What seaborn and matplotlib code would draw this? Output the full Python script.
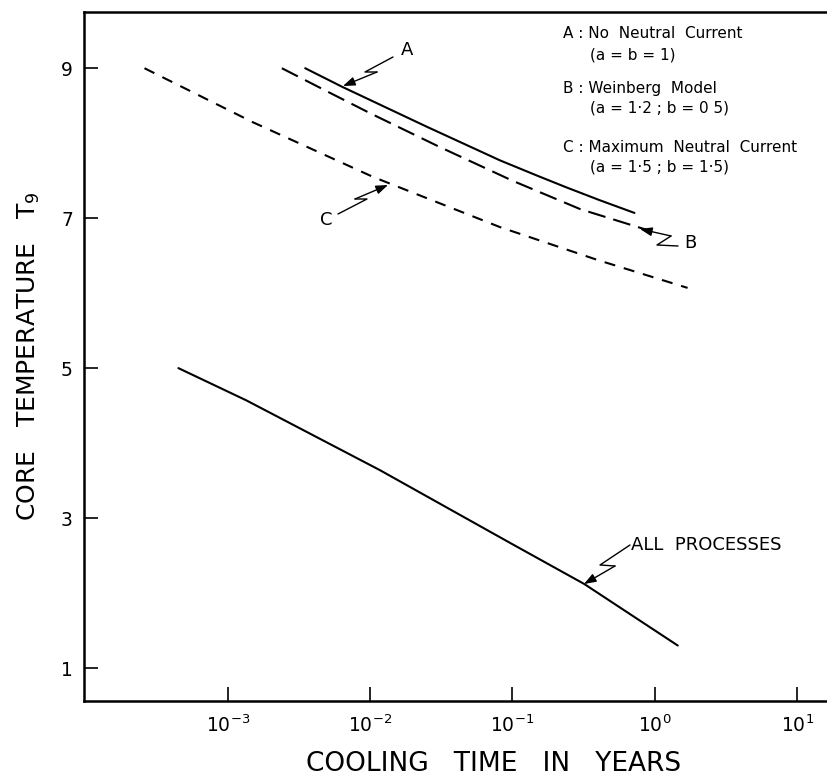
import numpy as np
import pandas as pd
import seaborn as sns
import matplotlib
matplotlib.use("Agg")
from matplotlib import pyplot as plt
from matplotlib.lines import Line2D
from matplotlib.ticker import NullLocator

# ============================================================
# DATA
# ============================================================
# cooling time in years, core temperature T9
a_time = [3.5e-3, 6.4e-3, 0.025, 0.082, 0.148, 0.24, 0.41, 0.72]
a_temp = [9.0, 8.75, 8.22, 7.77, 7.57, 7.41, 7.24, 7.07]

b_time = [2.4e-3, 5e-3, 0.01, 0.03, 0.1, 0.3, 0.93]
b_temp = [9.0, 8.69, 8.40, 7.96, 7.50, 7.12, 6.83]

c_time = [2.6e-4, 1.5e-3, 0.0105, 0.082, 0.4, 1.7]
c_temp = [9.0, 8.28, 7.55, 6.88, 6.44, 6.07]

all_time = [4.5e-4, 1.35e-3, 0.0117, 0.096, 0.32, 1.45]
all_temp = [5.0, 4.57, 3.64, 2.67, 2.12, 1.30]

x_ticks = [1e-3, 1e-2, 1e-1, 1e0, 1e1]
y_ticks = [1, 3, 5, 7, 9]

legend_lines = [
    "A : No  Neutral  Current",
    "(a = b = 1)",
    "B : Weinberg  Model",
    "(a = 1·2 ; b = 0 5)",
    "C : Maximum  Neutral  Current",
    "(a = 1·5 ; b = 1·5)",
]

df = pd.concat([
    pd.DataFrame({"t": a_time, "T": a_temp, "curve": "A"}),
    pd.DataFrame({"t": b_time, "T": b_temp, "curve": "B"}),
    pd.DataFrame({"t": c_time, "T": c_temp, "curve": "C"}),
    pd.DataFrame({"t": all_time, "T": all_temp, "curve": "ALL"}),
], ignore_index=True)

# ============================================================
# STYLE
# ============================================================
sns.set_theme(style="ticks", rc={"axes.edgecolor": "black", "xtick.color": "black",
                                 "ytick.color": "black", "text.color": "black"})
plt.rcParams["font.family"] = ["DejaVu Sans"]
plt.rcParams["mathtext.default"] = "regular"

W, H = 828, 778
fig = plt.figure(figsize=(W / 100, H / 100), dpi=100)
ax = fig.add_axes([84 / W, 1 - 701 / H, (827 - 84) / W, (701 - 12) / H])

sns.lineplot(data=df, x="t", y="T", style="curve", color="black",
             dashes={"A": "", "B": (8.6, 3.9), "C": (5.3, 4.3), "ALL": ""},
             estimator=None, sort=False, legend=False, lw=1.5, ax=ax)

ax.set_xscale("log")
ax.set_xlim(10 ** -4.01, 10 ** 1.21)
ax.set_ylim(0.56, 9.75)
ax.set_xticks(x_ticks)
ax.set_yticks(y_ticks)
ax.xaxis.set_minor_locator(NullLocator())
ax.set_xlabel("")
ax.set_ylabel("")
ax.tick_params(direction="in", length=10, width=1.2, labelsize=13.5, pad=8)
ax.tick_params(axis="x", pad=10)
for side in ["top", "left", "bottom"]:
    ax.spines[side].set_linewidth(1.8)
ax.spines["right"].set_visible(False)

fig.text(494 / W, 1 - 764 / H, "COOLING   TIME   IN   YEARS", fontsize=19,
         ha="center", va="center")
fig.text(29 / W, 1 - 356 / H, "CORE   TEMPERATURE   T$_{9}$", fontsize=18,
         ha="center", va="center", rotation=90)


# ============================================================
# ANNOTATIONS (zig-zag leaders, pixel coords from top-left)
# ============================================================
def fpx(x, y):
    return (x / W, 1 - y / H)


def zig_leader(path):
    xs = [p[0] / W for p in path[1:]]
    ys = [1 - p[1] / H for p in path[1:]]
    fig.add_artist(Line2D(xs, ys, color="black", lw=1.0, transform=fig.transFigure))
    ax.annotate("", xy=fpx(*path[0]), xytext=fpx(*path[1]),
                xycoords="figure fraction", textcoords="figure fraction",
                arrowprops=dict(arrowstyle="-|>,head_length=0.6,head_width=0.22",
                                color="black", lw=1.0, shrinkA=0, shrinkB=0,
                                mutation_scale=12))


zig_leader([(343, 86), (377, 72), (365, 72), (393, 57)])
zig_leader([(640, 229), (671, 236), (657, 245), (678, 246)])
zig_leader([(388, 185), (355, 199), (367, 199), (338, 214)])
zig_leader([(584, 584), (615, 566), (600, 565), (630, 545)])

fig.text(*fpx(407, 50), "A", fontsize=13, ha="center", va="center")
fig.text(*fpx(690, 243), "B", fontsize=13, ha="center", va="center")
fig.text(*fpx(326, 220), "C", fontsize=13, ha="center", va="center")
fig.text(*fpx(631, 545), "ALL  PROCESSES", fontsize=13, ha="left", va="center")

legend_x = [563, 590, 563, 590, 563, 590]
legend_y = [33, 55, 88, 108, 147, 167]
for txt, lx, ly in zip(legend_lines, legend_x, legend_y):
    fig.text(*fpx(lx, ly), txt, fontsize=11, ha="left", va="center")

plt.savefig("out.png", dpi=100)
plt.close()
